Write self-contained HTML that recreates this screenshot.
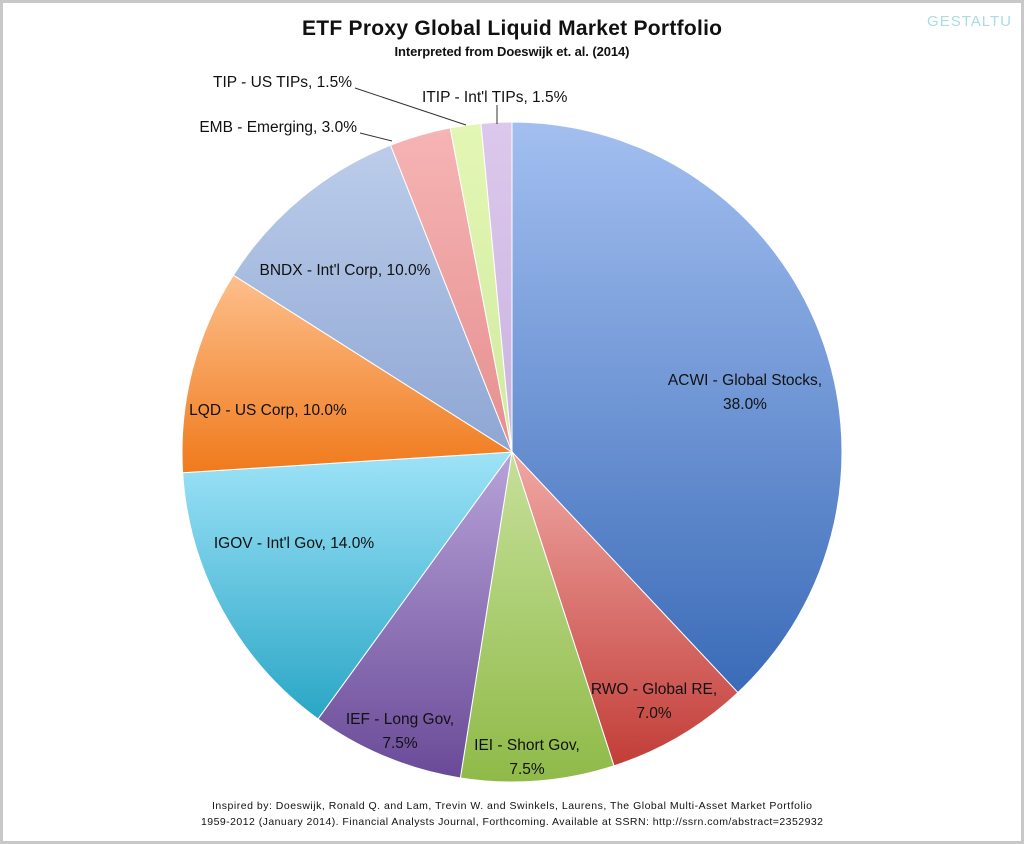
<!DOCTYPE html>
<html><head><meta charset="utf-8"><style>
body{margin:0;background:#fff;}
#wrap{position:relative;width:1024px;height:844px;overflow:hidden;background:#fff;box-sizing:border-box;border:3px solid #c8c8c8;}
svg{position:absolute;left:-3px;top:-3px;}
text{font-family:"Liberation Sans",sans-serif;fill:#111;}
</style></head><body>
<div id="wrap">
<svg id="chart" width="1024" height="844" viewBox="0 0 1024 844">
<defs id="defs"></defs>
<text x="512" y="35" text-anchor="middle" font-size="21" font-weight="bold" textLength="420">ETF Proxy Global Liquid Market Portfolio</text>
<text x="512" y="56" text-anchor="middle" font-size="13" font-weight="bold" textLength="235">Interpreted from Doeswijk et. al. (2014)</text>
<text x="1012" y="26" text-anchor="end" font-size="15" style="fill:#a8dde4" letter-spacing="1">GESTALTU</text>
<g id="slices"></g>
<g id="labels"></g>
<text x="512" y="809" text-anchor="middle" font-size="10.5" textLength="600">Inspired by: Doeswijk, Ronald Q. and Lam, Trevin W. and Swinkels, Laurens, The Global Multi-Asset Market Portfolio</text>
<text x="512" y="825" text-anchor="middle" font-size="10.5" textLength="622">1959-2012 (January 2014). Financial Analysts Journal, Forthcoming. Available at SSRN: http://ssrn.com/abstract=2352932</text>
</svg>
</div>
<script>
const categories=["ACWI - Global Stocks","RWO - Global RE","IEI - Short Gov","IEF - Long Gov","IGOV - Int'l Gov","LQD - US Corp","BNDX - Int'l Corp","EMB - Emerging","TIP - US TIPs","ITIP - Int'l TIPs"];
const values=[38.0,7.0,7.5,7.5,14.0,10.0,10.0,3.0,1.5,1.5];
const valueLabels=["38.0%","7.0%","7.5%","7.5%","14.0%","10.0%","10.0%","3.0%","1.5%","1.5%"];
const colorsLight=["#a3bff0","#f0a8a5","#c6e09a","#b7a3d8","#9ee3f8","#fdbf8c","#bccdea","#f6b4b4","#e3f7b4","#dcc8ec"];
const colorsDark=["#3a6bb8","#c23d38","#8fba48","#6a4a98","#2aa6c6","#f07a1c","#8ea6d4","#e68f8f","#cfeaa0","#c9b3e0"];
const NS="http://www.w3.org/2000/svg";
const cx=512,cy=452,r=330;
const total=values.reduce((a,b)=>a+b,0);
const defs=document.getElementById('defs'),g=document.getElementById('slices'),lg=document.getElementById('labels');
function pt(a,rr){return [cx+rr*Math.sin(a),cy-rr*Math.cos(a)];}
let acc=0;
values.forEach((v,i)=>{
  const a0=acc/total*2*Math.PI;acc+=v;const a1=acc/total*2*Math.PI;
  const gr=document.createElementNS(NS,'linearGradient');gr.id='g'+i;
  gr.setAttribute('x1','0');gr.setAttribute('y1','0');gr.setAttribute('x2','0');gr.setAttribute('y2','1');
  gr.innerHTML='<stop offset="0" stop-color="'+colorsLight[i]+'"/><stop offset="1" stop-color="'+colorsDark[i]+'"/>';
  defs.appendChild(gr);
  const p0=pt(a0,r),p1=pt(a1,r);
  const p=document.createElementNS(NS,'path');
  p.setAttribute('d','M'+cx+','+cy+'L'+p0[0]+','+p0[1]+'A'+r+','+r+' 0 '+(a1-a0>Math.PI?1:0)+' 1 '+p1[0]+','+p1[1]+'Z');
  p.setAttribute('fill','url(#g'+i+')');p.setAttribute('stroke','#fff');p.setAttribute('stroke-width','1');
  
  
  g.appendChild(p);
});
// label layout (positions only)
const lay=[[745,385,"middle",2],[654,694,"middle",2],[527,750,"middle",2],[400,724,"middle",2],[294,548,"middle",1],[268,415,"middle",1],[345,275,"middle",1],[357,132,"end",1],[352,87,"end",1],[422,102,"start",1]];
categories.forEach((c,i)=>{
  const L=lay[i];
  const t=document.createElementNS(NS,'text');
  t.setAttribute('x',L[0]);t.setAttribute('y',L[1]);t.setAttribute('text-anchor',L[2]);t.setAttribute('font-size','15.5');
  
  
  if(L[3]==2){
    t.innerHTML='<tspan x="'+L[0]+'">'+c+',</tspan><tspan x="'+L[0]+'" dy="24">'+valueLabels[i]+'</tspan>';
  } else t.textContent=c+', '+valueLabels[i];
  lg.appendChild(t);
});
const leaders=[[360,133,392,141],[355,88,466,125],[497,105,497,124]];
leaders.forEach((l,i)=>{
  const ln=document.createElementNS(NS,'line');
  ln.setAttribute('x1',l[0]);ln.setAttribute('y1',l[1]);ln.setAttribute('x2',l[2]);ln.setAttribute('y2',l[3]);
  ln.setAttribute('stroke','#333');ln.setAttribute('stroke-width','1');
  
  
  lg.appendChild(ln);
});
</script>
</body></html>
